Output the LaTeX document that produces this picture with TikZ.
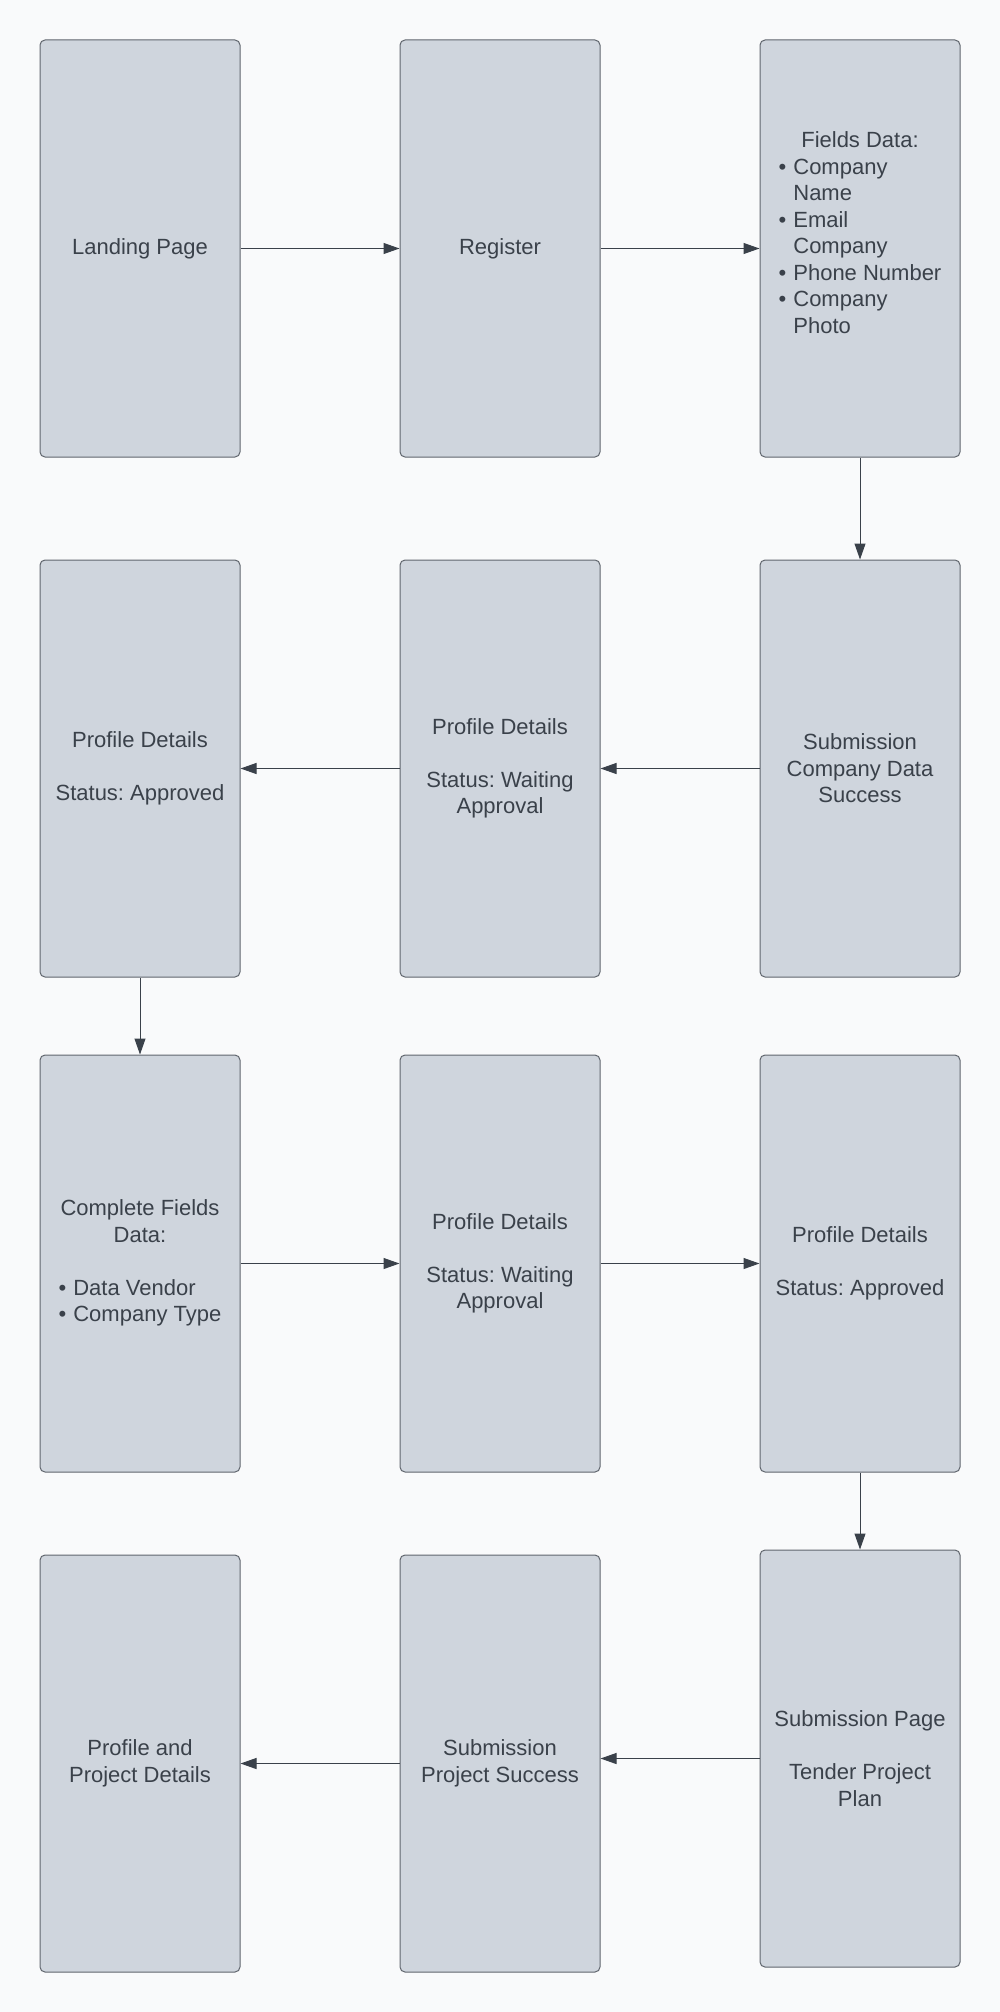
\documentclass[tikz,border=0pt]{standalone}
\usepackage{fontspec}
\setmainfont{Liberation Sans}
\usepackage{xcolor}
\usepackage{tikz}
\usetikzlibrary{arrows.meta}
\frenchspacing
\definecolor{bgcol}{RGB}{249,250,251}
\definecolor{boxcol}{RGB}{207,213,221}
\definecolor{edgecol}{RGB}{96,102,110}
\definecolor{inkcol}{RGB}{58,65,74}
\tikzset{
  screen/.style={rectangle, rounded corners=5pt, draw=edgecol, line width=1pt,
    fill=boxcol, minimum width=200pt, minimum height=417pt, inner sep=0pt,
    align=center, text=inkcol, font=\fontsize{22pt}{26.5pt}\selectfont},
  flow/.style={draw=inkcol, line width=1pt, -{Triangle[length=16pt, width=11pt]}}
}

\begin{document}
\begin{tikzpicture}[x=1pt, y=-1pt]
        \fill[bgcol] (0,0) rectangle (1000,2012);

        \node[screen] (p1) at (140, 248.5) {Landing Page};
        \node[screen] (p2) at (500, 248.5) {Register};
        \node[screen] (p3) at (860, 248.5) {\begin{tabular}{@{}l@{\hspace{7pt}}l@{}}
            \multicolumn{2}{@{}c@{}}{Fields Data:}\\
            \textbullet & Company\\
            & Name\\
            \textbullet & Email\\
            & Company\\
            \textbullet & Phone Number\\
            \textbullet & Company\\
            & Photo\\
            &
          \end{tabular}};
        \node[screen] (p4) at (860, 768.5) {Submission\\ Company Data\\ Success};
        \node[screen] (p5) at (500, 768.5) {Profile Details\\ ~\\ Status: Waiting\\ Approval};
        \node[screen] (p6) at (140, 768.5) {Profile Details\\ ~\\ Status: Approved};
        \node[screen] (p7) at (140, 1263.5) {\begin{tabular}{@{}l@{\hspace{7pt}}l@{}}
            \multicolumn{2}{@{}c@{}}{Complete Fields}\\
            \multicolumn{2}{@{}c@{}}{Data:}\\
            & \\
            \textbullet & Data Vendor\\
            \textbullet & Company Type
          \end{tabular}};
        \node[screen] (p8) at (500, 1263.5) {Profile Details\\ ~\\ Status: Waiting\\ Approval};
        \node[screen] (p9) at (860, 1263.5) {Profile Details\\ ~\\ Status: Approved};
        \node[screen] (p10) at (860, 1758.5) {Submission Page\\ ~\\ Tender Project\\ Plan};
        \node[screen] (p11) at (500, 1763.5) {Submission\\ Project Success};
        \node[screen] (p12) at (140, 1763.5) {Profile and\\ Project Details};

        \foreach \from/\to in {
          p1/p2, p2/p3, p3/p4,
          p4/p5, p5/p6, p6/p7,
          p7/p8, p8/p9, p9/p10,
          p11/p12}
        \draw[flow] (\from) -- (\to);
        \draw[flow] (p10.west) -- (p10.west -| p11.east);
      \end{tikzpicture}
\end{document}
